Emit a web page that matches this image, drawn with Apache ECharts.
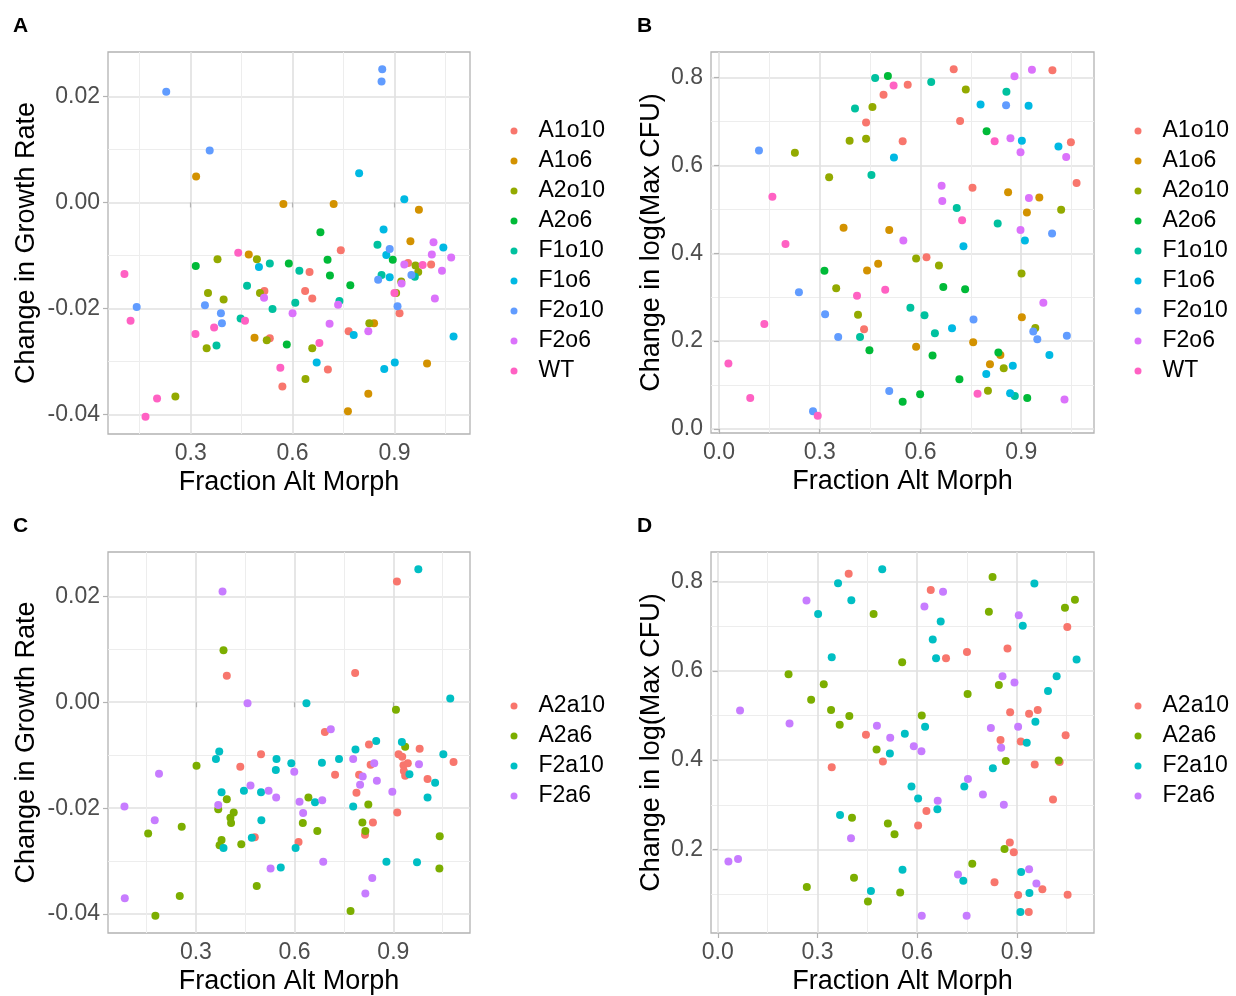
<!DOCTYPE html>
<html><head><meta charset="utf-8">
<script src="https://cdn.jsdelivr.net/npm/echarts@6/dist/echarts.min.js"></script>
<style>html,body{margin:0;padding:0;background:#fff}#c{width:1236px;height:996px}</style>
</head><body><div id="c"></div>
<script>
// ---------- categories ----------
const strainsAB = ['A1o10','A1o6','A2o10','A2o6','F1o10','F1o6','F2o10','F2o6','WT'];
const colorsAB = ['#F8766D','#D39200','#93AA00','#00BA38','#00C19F','#00B9E3','#619CFF','#DB72FB','#FF61C3'];
const strainsCD = ['A2a10','A2a6','F2a10','F2a6'];
const colorsCD = ['#F8766D','#7CAE00','#00BFC4','#C77CFF'];

// ---------- tick labels ----------
const fracTicksAC = [0.3,0.6,0.9];
const fracTicksBD = [0,0.3,0.6,0.9];
const fracMinor = [0.15,0.45,0.75,1.05];
const growthTicks = [-0.04,-0.02,0,0.02];
const growthMinor = [-0.03,-0.01,0.01];
const cfuTicksB = [0,0.2,0.4,0.6,0.8];
const cfuTicksD = [0.2,0.4,0.6,0.8];
const cfuMinor = [0.1,0.3,0.5,0.7];

// ---------- Panel A: [fraction alt morph, change in growth rate] ----------
const A_A1o10 = [[0.517,-0.0167],[0.533,-0.0256],[0.570,-0.0347],[0.742,-0.0090],[0.650,-0.0131],[0.940,-0.0114],[1.008,-0.0117],[0.637,-0.0167],[0.658,-0.0181],[0.915,-0.0209],[0.765,-0.0243],[0.704,-0.0315]];
const A_A1o6 = [[0.316,0.0049],[0.573,-0.0003],[0.471,-0.0098],[0.488,-0.0255],[0.721,-0.0003],[0.972,-0.0014],[0.947,-0.0073],[0.840,-0.0228],[0.996,-0.0304],[0.823,-0.0361],[0.763,-0.0394]];
const A_A2o10 = [[0.495,-0.0107],[0.379,-0.0107],[0.351,-0.0171],[0.397,-0.0183],[0.504,-0.0171],[0.347,-0.0275],[0.524,-0.0260],[0.255,-0.0366],[0.962,-0.0119],[0.970,-0.0131],[0.920,-0.0149],[0.905,-0.0171],[0.826,-0.0228],[0.658,-0.0275],[0.638,-0.0333]];
const A_A2o6 = [[0.315,-0.0120],[0.589,-0.0115],[0.583,-0.0268],[0.682,-0.0056],[0.703,-0.0108],[0.895,-0.0108],[0.710,-0.0138],[0.770,-0.0156]];
const A_F1o10 = [[0.533,-0.0115],[0.466,-0.0157],[0.541,-0.0201],[0.447,-0.0219],[0.376,-0.0270],[0.850,-0.0080],[0.620,-0.0129],[0.862,-0.0137],[0.960,-0.0140],[0.608,-0.0189],[0.738,-0.0186]];
const A_F1o6 = [[0.501,-0.0122],[0.796,0.0055],[0.929,0.0006],[0.868,-0.0051],[1.044,-0.0085],[0.876,-0.0099],[0.886,-0.0141],[0.780,-0.0250],[1.074,-0.0253],[0.671,-0.0302],[0.870,-0.0314],[0.901,-0.0302]];
const A_F2o10 = [[0.228,0.0209],[0.356,0.0098],[0.141,-0.0197],[0.342,-0.0194],[0.389,-0.0209],[0.392,-0.0228],[0.864,0.0251],[0.862,0.0228],[0.886,-0.0088],[0.852,-0.0146],[0.950,-0.0137],[0.909,-0.0196]];
const A_F2o6 = [[0.516,-0.0180],[0.600,-0.0209],[1.015,-0.0075],[1.010,-0.0098],[1.067,-0.0104],[0.929,-0.0117],[1.040,-0.0129],[0.921,-0.0153],[0.734,-0.0193],[1.019,-0.0181],[0.709,-0.0229],[0.823,-0.0243]];
const A_WT = [[0.440,-0.0095],[0.105,-0.0135],[0.123,-0.0223],[0.369,-0.0236],[0.460,-0.0223],[0.314,-0.0248],[0.564,-0.0312],[0.201,-0.0370],[0.167,-0.0404],[0.983,-0.0118],[0.900,-0.0171],[0.679,-0.0265]];

// ---------- Panel B: [fraction alt morph, change in log(max CFU)] ----------
const B_A1o10 = [[0.490,0.761],[0.438,0.698],[0.547,0.655],[0.432,0.227],[0.699,0.819],[0.993,0.817],[0.562,0.784],[0.718,0.701],[1.048,0.653],[0.755,0.549],[1.065,0.560],[0.618,0.391]];
const B_A1o6 = [[0.371,0.458],[0.507,0.453],[0.441,0.361],[0.474,0.376],[0.861,0.539],[0.954,0.527],[0.917,0.493],[0.902,0.254],[0.587,0.187],[0.757,0.197],[0.838,0.168],[0.807,0.147]];
const B_A2o10 = [[0.457,0.733],[0.389,0.656],[0.438,0.661],[0.226,0.629],[0.328,0.573],[0.349,0.320],[0.414,0.260],[0.735,0.773],[1.019,0.499],[0.587,0.388],[0.655,0.372],[0.901,0.354],[0.942,0.230],[0.848,0.138],[0.801,0.087]];
const B_A2o6 = [[0.503,0.804],[0.314,0.360],[0.448,0.179],[0.547,0.062],[0.797,0.678],[0.668,0.323],[0.733,0.318],[0.636,0.167],[0.832,0.174],[0.716,0.113],[0.599,0.079],[0.918,0.070]];
const B_F1o10 = [[0.465,0.799],[0.405,0.730],[0.454,0.578],[0.420,0.209],[0.632,0.790],[0.856,0.768],[0.708,0.503],[0.830,0.468],[0.570,0.276],[0.612,0.259],[0.643,0.218],[0.881,0.075]];
const B_F1o6 = [[0.521,0.618],[0.779,0.739],[0.922,0.736],[0.902,0.656],[1.011,0.643],[0.911,0.429],[0.728,0.416],[0.694,0.229],[0.984,0.168],[0.875,0.144],[0.796,0.125],[0.867,0.081]];
const B_F2o10 = [[0.119,0.634],[0.238,0.311],[0.316,0.261],[0.355,0.209],[0.507,0.086],[0.280,0.040],[0.855,0.737],[0.992,0.445],[0.758,0.249],[0.936,0.222],[0.948,0.204],[1.036,0.212]];
const B_F2o6 = [[0.549,0.429],[0.932,0.818],[0.880,0.803],[0.868,0.662],[0.898,0.630],[1.034,0.619],[0.663,0.554],[0.665,0.519],[0.923,0.526],[0.898,0.453],[0.966,0.287],[1.029,0.067]];
const B_WT = [[0.520,0.782],[0.159,0.529],[0.198,0.421],[0.411,0.303],[0.495,0.317],[0.135,0.239],[0.028,0.149],[0.093,0.070],[0.294,0.030],[0.821,0.655],[0.724,0.475],[0.770,0.080]];

// ---------- Panel C: [fraction alt morph, change in growth rate] ----------
const C_A2a10 = [[0.394,0.0050],[0.498,-0.0098],[0.435,-0.0122],[0.479,-0.0255],[0.911,0.0228],[0.784,0.0055],[0.692,-0.0056],[0.826,-0.0080],[0.980,-0.0088],[0.831,-0.0118],[0.916,-0.0098],[0.927,-0.0103],[0.931,-0.0119],[0.944,-0.0115],[0.932,-0.0130],[0.936,-0.0139],[1.083,-0.0113],[0.723,-0.0137],[0.796,-0.0137],[0.788,-0.0171],[1.004,-0.0145],[0.838,-0.0227],[0.814,-0.0250],[0.912,-0.0208],[0.612,-0.0264]];
const C_A2a6 = [[0.384,0.0098],[0.302,-0.0120],[0.394,-0.0183],[0.368,-0.0202],[0.415,-0.0208],[0.405,-0.0218],[0.407,-0.0228],[0.155,-0.0248],[0.257,-0.0235],[0.378,-0.0260],[0.372,-0.0270],[0.438,-0.0268],[0.485,-0.0347],[0.251,-0.0366],[0.177,-0.0403],[0.908,-0.0014],[0.936,-0.0084],[0.642,-0.0180],[0.625,-0.0228],[0.669,-0.0243],[0.824,-0.0193],[0.806,-0.0227],[0.815,-0.0243],[1.041,-0.0253],[1.040,-0.0314],[0.770,-0.0394]];
const C_F2a10 = [[0.371,-0.0093],[0.361,-0.0107],[0.545,-0.0107],[0.543,-0.0128],[0.590,-0.0115],[0.378,-0.0170],[0.446,-0.0167],[0.498,-0.0170],[0.499,-0.0223],[0.384,-0.0275],[0.470,-0.0256],[0.558,-0.0312],[0.976,0.0251],[0.636,-0.0002],[1.073,0.0007],[0.848,-0.0073],[0.785,-0.0089],[0.926,-0.0075],[0.683,-0.0114],[0.735,-0.0107],[0.949,-0.0136],[1.052,-0.0098],[1.027,-0.0152],[1.004,-0.0180],[0.662,-0.0189],[0.778,-0.0197],[0.603,-0.0275],[0.879,-0.0301],[0.972,-0.0302]];
const C_F2a6 = [[0.381,0.0209],[0.457,-0.0002],[0.188,-0.0135],[0.466,-0.0157],[0.521,-0.0167],[0.544,-0.0180],[0.368,-0.0194],[0.083,-0.0197],[0.175,-0.0223],[0.527,-0.0314],[0.084,-0.0370],[0.710,-0.0051],[0.778,-0.0107],[0.842,-0.0115],[0.978,-0.0117],[0.599,-0.0131],[0.807,-0.0140],[0.799,-0.0156],[0.850,-0.0148],[0.897,-0.0169],[0.615,-0.0188],[0.684,-0.0185],[0.626,-0.0209],[0.687,-0.0301],[0.836,-0.0332],[0.815,-0.0361]];

// ---------- Panel D: [fraction alt morph, change in log(max CFU)] ----------
const D_A2a10 = [[0.394,0.817],[0.446,0.457],[0.497,0.397],[0.343,0.384],[0.641,0.781],[1.052,0.698],[0.687,0.628],[0.750,0.642],[0.872,0.650],[0.880,0.507],[0.937,0.504],[0.963,0.512],[0.851,0.445],[0.912,0.442],[1.047,0.456],[0.954,0.390],[1.029,0.396],[1.009,0.312],[0.628,0.286],[0.603,0.254],[0.879,0.216],[0.891,0.194],[0.833,0.127],[0.977,0.111],[0.904,0.098],[1.053,0.099],[0.936,0.060]];
const D_A2a6 = [[0.469,0.727],[0.555,0.619],[0.213,0.592],[0.319,0.570],[0.281,0.535],[0.341,0.512],[0.396,0.499],[0.367,0.479],[0.478,0.424],[0.404,0.271],[0.512,0.258],[0.532,0.234],[0.268,0.116],[0.410,0.137],[0.452,0.084],[0.549,0.104],[0.827,0.810],[0.816,0.732],[1.045,0.741],[1.075,0.759],[0.846,0.568],[0.752,0.548],[0.614,0.500],[0.867,0.398],[1.026,0.399],[0.863,0.201],[0.766,0.168]];
const D_F2a10 = [[0.495,0.827],[0.362,0.796],[0.402,0.758],[0.302,0.727],[0.343,0.630],[0.518,0.415],[0.368,0.277],[0.461,0.107],[0.556,0.155],[0.953,0.795],[0.671,0.710],[0.918,0.701],[0.647,0.670],[0.657,0.628],[1.080,0.625],[1.020,0.588],[0.994,0.555],[0.624,0.475],[0.563,0.459],[0.956,0.486],[0.930,0.439],[0.828,0.382],[0.742,0.341],[0.583,0.341],[0.603,0.314],[0.661,0.290],[0.739,0.130],[0.913,0.150],[0.938,0.103],[0.911,0.060]];
const D_F2a6 = [[0.267,0.757],[0.067,0.511],[0.216,0.482],[0.479,0.477],[0.519,0.450],[0.401,0.225],[0.032,0.173],[0.061,0.179],[0.678,0.777],[0.622,0.744],[0.906,0.724],[0.857,0.588],[0.893,0.574],[0.590,0.431],[0.613,0.420],[0.822,0.472],[0.904,0.475],[0.853,0.428],[0.753,0.358],[0.798,0.323],[0.861,0.300],[0.662,0.309],[0.723,0.144],[0.937,0.156],[0.959,0.124],[0.614,0.052],[0.749,0.052]];

const panelA = [A_A1o10,A_A1o6,A_A2o10,A_A2o6,A_F1o10,A_F1o6,A_F2o10,A_F2o6,A_WT];
const panelB = [B_A1o10,B_A1o6,B_A2o10,B_A2o6,B_F1o10,B_F1o6,B_F2o10,B_F2o6,B_WT];
const panelC = [C_A2a10,C_A2a6,C_F2a10,C_F2a6];
const panelD = [D_A2a10,D_A2a6,D_F2a10,D_F2a6];

// ---------- build ----------
const FONT = '"Liberation Sans", Arial, Helvetica, sans-serif';
function expandRange(groups, k) {
  let lo = Infinity, hi = -Infinity;
  groups.forEach(g => g.forEach(p => { lo = Math.min(lo, p[k]); hi = Math.max(hi, p[k]); }));
  const e = (hi - lo) * 0.05;
  return [lo - e, hi + e];
}
const fmt1 = v => (Math.abs(v) < 1e-9 ? 0 : v).toFixed(1);
const fmt2 = v => (Math.abs(v) < 1e-9 ? 0 : v).toFixed(2);

function axisPair(dim, gridIndex, range, major, minor, fmt, name, nameGap) {
  const main = {
    type: 'value', gridIndex, min: range[0], max: range[1],
    name, nameLocation: 'middle', nameGap,
    nameTextStyle: { fontSize: 27, color: '#000', fontFamily: FONT },
    axisLine: { show: false },
    axisTick: { show: true, customValues: major, length: 5, lineStyle: { color: '#b3b3b3', width: 1.2 } },
    axisLabel: { customValues: major, formatter: fmt, fontSize: 23, color: '#4d4d4d', margin: 8, fontFamily: FONT },
    splitLine: { show: true, lineStyle: { color: '#e0e0e0', width: 1.6 } }
  };
  if (dim === 'y') { main.nameRotate = 90; main.position = 'left'; } else { main.position = 'bottom'; }
  const sub = {
    type: 'value', gridIndex, min: range[0], max: range[1],
    position: dim === 'x' ? 'top' : 'right',
    axisLine: { show: false },
    axisTick: { show: false, customValues: minor },
    axisLabel: { show: false, customValues: minor },
    splitLine: { show: true, lineStyle: { color: '#ededed', width: 1 } }
  };
  return [main, sub];
}

const panels = [
  { groups: panelA, names: strainsAB, colors: colorsAB, xt: fracTicksAC, yt: growthTicks, ym: growthMinor, yf: fmt2, yname: 'Change in Growth Rate', ygap: 68 },
  { groups: panelB, names: strainsAB, colors: colorsAB, xt: fracTicksBD, yt: cfuTicksB, ym: cfuMinor, yf: fmt1, yname: 'Change in log(Max CFU)', ygap: 46 },
  { groups: panelC, names: strainsCD, colors: colorsCD, xt: fracTicksAC, yt: growthTicks, ym: growthMinor, yf: fmt2, yname: 'Change in Growth Rate', ygap: 68 },
  { groups: panelD, names: strainsCD, colors: colorsCD, xt: fracTicksBD, yt: cfuTicksD, ym: cfuMinor, yf: fmt1, yname: 'Change in log(Max CFU)', ygap: 46 }
];

const grids = [
  { left: 108, top: 52, width: 362, height: 382 },
  { left: 711, top: 52, width: 383, height: 381 },
  { left: 108, top: 552, width: 362, height: 382 },
  { left: 711, top: 552, width: 383, height: 381 }
].map(g => Object.assign(g, { show: true, borderColor: '#b3b3b3', borderWidth: 1.3, backgroundColor: '#fff' }));

const legendPos = [[510.5, 119], [1134.5, 119], [510.5, 694], [1134.5, 694]];

const xAxes = [], yAxes = [], series = [], legends = [];
panels.forEach((p, i) => {
  xAxes.push(...axisPair('x', i, expandRange(p.groups, 0), p.xt, fracMinor, fmt1, 'Fraction Alt Morph', 35));
  yAxes.push(...axisPair('y', i, expandRange(p.groups, 1), p.yt, p.ym, p.yf, p.yname, p.ygap));
  p.groups.forEach((g, j) => {
    series.push({
      type: 'scatter', name: p.names[j], xAxisIndex: 2 * i, yAxisIndex: 2 * i,
      data: g, symbol: 'circle', symbolSize: 8, symbolKeepAspect: true,
      itemStyle: { color: p.colors[j], opacity: 1 }, silent: true
    });
  });
  legends.push({
    orient: 'vertical', left: legendPos[i][0], top: legendPos[i][1], padding: 0,
    data: p.names.map((n, j) => ({ name: n, icon: 'circle', itemStyle: { color: p.colors[j] } })),
    itemWidth: 7, itemHeight: 7, itemGap: 6, selectedMode: false,
    textStyle: { fontSize: 23, color: '#000', fontFamily: FONT, lineHeight: 24, padding: [0, 0, 0, 16] }
  });
});

const labelFont = 'bold 21px ' + FONT;
const graphic = [['A', 13, 16], ['B', 637, 16], ['C', 13, 516], ['D', 637, 516]].map(a => ({
  type: 'text', left: a[1], top: a[2], style: { text: a[0], font: labelFont, fill: '#000' }
}));

const chart = echarts.init(document.getElementById('c'), null, { renderer: 'canvas' });
chart.setOption({
  animation: false,
  backgroundColor: '#fff',
  grid: grids, xAxis: xAxes, yAxis: yAxes, series, legend: legends, graphic,
  tooltip: { show: false }
});
</script>
</body></html>
